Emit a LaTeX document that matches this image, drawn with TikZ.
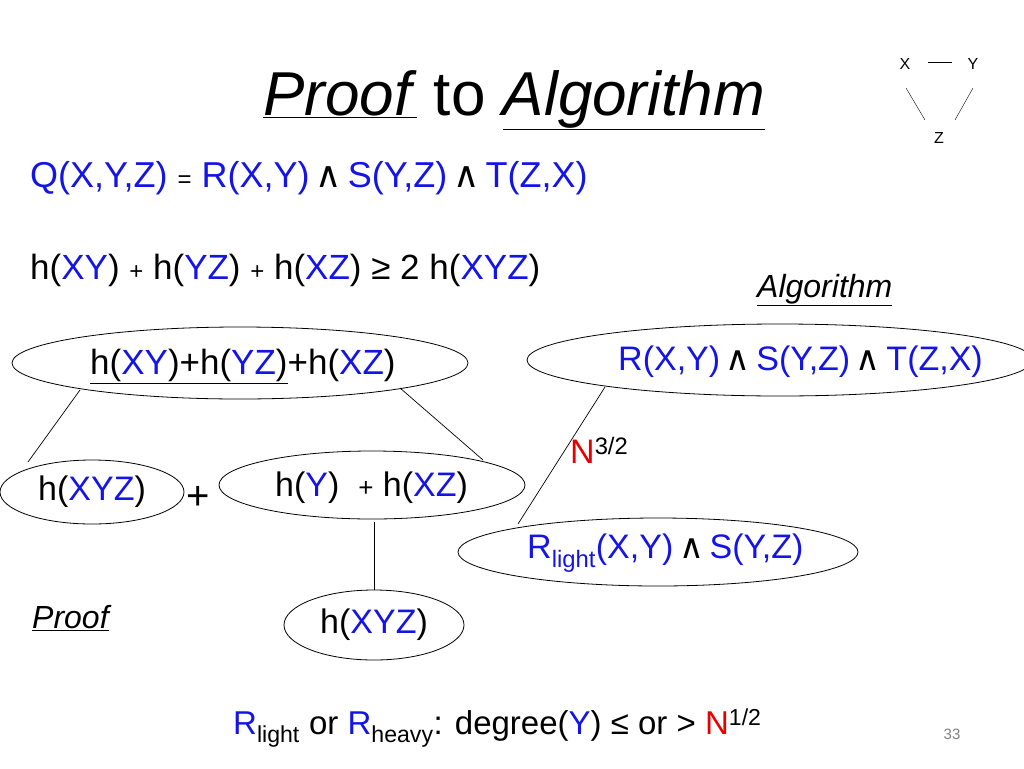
\documentclass[tikz,border=0pt]{standalone}
\usepackage{fontspec}
\setmainfont{Liberation Sans}
\newfontfamily\djv{DejaVu Sans}
\usetikzlibrary{shapes.geometric}
\definecolor{bl}{RGB}{20,20,230}
\definecolor{rd}{RGB}{230,0,0}
\newcommand{\B}[1]{\textcolor{bl}{#1}}
\newcommand{\wedg}{{\djv\,∧\,}}
\begin{document}
\begin{tikzpicture}[x=1pt,y=-1pt,
  ell/.style={draw,ellipse,line width=0.8pt},
  lnk/.style={draw,line width=0.7pt},
  big/.style={font=\fontsize{34}{36}\selectfont,anchor=west,inner sep=0}]
\useasboundingbox (0,0) rectangle (1024,768);
\node[anchor=center,inner sep=0,font=\fontsize{62}{66}\selectfont] (title) at (514,100) {\underline{\textit{Proof}} to \underline{\textit{Algorithm}}};
\node[font=\fontsize{16}{18}\selectfont] (x) at (905,64) {X};
\node[font=\fontsize{16}{18}\selectfont] (y) at (973,64) {Y};
\node[font=\fontsize{16}{18}\selectfont] (z) at (939,138) {Z};
\draw (928,62) -- (952,62);
\draw (906,88) -- (925,120);
\draw (973,88) -- (955,120);
\node[big,font=\fontsize{36}{38}\selectfont] (q) at (30,178) {\B{Q(X,Y,Z)} {\fontsize{24}{26}\selectfont =} \B{R(X,Y)}\wedg\B{S(Y,Z)}\wedg\B{T(Z,X)}};
\node[big,font=\fontsize{35}{38}\selectfont] (h) at (30,270) {h(\B{XY}) {\fontsize{24}{26}\selectfont +} h(\B{YZ}) {\fontsize{24}{26}\selectfont +} h(\B{XZ}) ≥ 2 h(\B{XYZ})};
\node[big,font=\fontsize{32}{34}\selectfont\itshape] (alg) at (757,290) {\underline{Algorithm}};
\node[ell,minimum width=456,minimum height=72] (e1) at (240,363) {};
\node[big,font=\fontsize{35}{38}\selectfont] at (90,366) {\underline{h(\B{XY})+h(\B{YZ})}+h(\B{XZ})};
\node[ell,minimum width=506,minimum height=72] (e2) at (780,360) {};
\node[big] at (618,362) {\B{R(X,Y)}\wedg\B{S(Y,Z)}\wedg\B{T(Z,X)}};
\node[ell,minimum width=184,minimum height=64] (e3) at (92,492) {};
\node[big] at (38,492) {h(\B{XYZ})};
\node[big,font=\fontsize{40}{44}\selectfont] (plus) at (186,498) {+};
\node[ell,minimum width=306,minimum height=68] (e4) at (372,485) {};
\node[big] at (275,488) {h(\B{Y})\ \ {\fontsize{26}{28}\selectfont +} h(\B{XZ})};
\node[big] (n) at (570,450) {\textcolor{rd}{N}\textsuperscript{3/2}};
\node[ell,minimum width=400,minimum height=68] (e5) at (658,552) {};
\node[big] at (527,553) {\B{R\textsubscript{light}(X,Y)}\wedg\B{S(Y,Z)}};
\node[ell,minimum width=180,minimum height=70] (e6) at (374,625) {};
\node[big] at (320,625) {h(\B{XYZ})};
\node[big,font=\fontsize{32}{34}\selectfont\itshape] (prf) at (32,618) {\underline{Proof}};
\draw[lnk] (80,390) -- (28,462);
\draw[lnk] (400,388) -- (483,460);
\draw[lnk] (605,387) -- (518,524);
\draw[lnk] (374,522) -- (374,590);
\node[big,font=\fontsize{33}{36}\selectfont] (bot) at (233,728) {\B{R}\textsubscript{light} or \B{R}\textsubscript{heavy}: degree(\B{Y}) ≤ or > \textcolor{rd}{N}\textsuperscript{1/2}};
\node[font=\fontsize{15}{17}\selectfont,text=gray] (pg) at (952,734) {33};
\end{tikzpicture}
\end{document}
